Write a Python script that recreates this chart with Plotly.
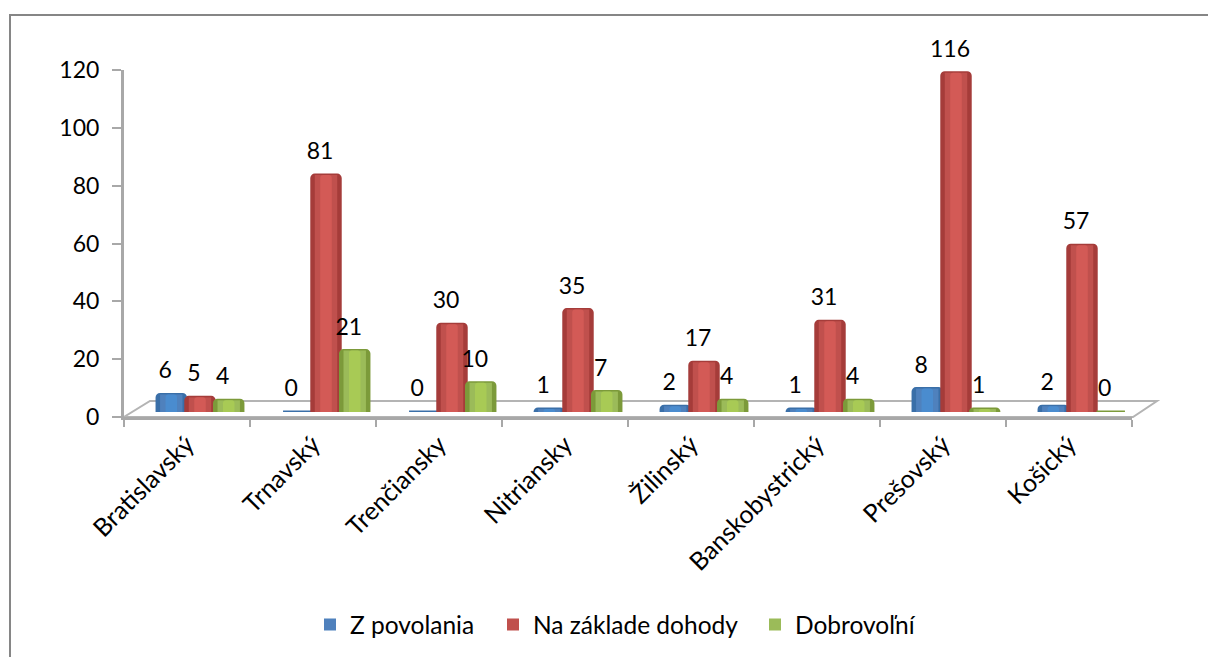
import plotly.graph_objects as go

categories = ["Bratislavský", "Trnavský", "Trenčiansky", "Nitriansky", "Žilinský",
              "Banskobystrický", "Prešovský", "Košický"]
z_povolania = [6, 0, 0, 1, 2, 1, 8, 2]
na_zaklade_dohody = [5, 81, 30, 35, 17, 31, 116, 57]
dobrovolni = [4, 21, 10, 7, 4, 4, 1, 0]
y_ticks = [0, 20, 40, 60, 80, 100, 120]

series = [
    ("Z povolania", z_povolania, ["#3a6fa8", "#4F81BD", "#4a8ccf"]),
    ("Na základe dohody", na_zaklade_dohody, ["#a53c3a", "#C0504D", "#d35a56"]),
    ("Dobrovoľní", dobrovolni, ["#7c9a3a", "#9BBB59", "#a8ca55"]),
]

W, H = 1208, 657
def px(a, b):
    return [a / W, b / W]
def py(top, bottom):
    return [1 - bottom / H, 1 - top / H]
FONT = "Lato, Carlito, Calibri, sans-serif"
xr = [-0.5, 7.5]
bar_w = 0.228
legend_ids = ["legend", "legend2", "legend3"]
legend_left = [310, 493, 755]

fig = go.Figure()
for i, (name, vals, cols) in enumerate(series):
    left = -0.342 + i * bar_w
    for scale, col, leg in [(0.99, cols[0], False), (0.78, cols[1], True), (0.4, cols[2], False)]:
        w = bar_w * scale
        fig.add_trace(go.Bar(
            x=categories, y=vals, name=name, width=w,
            offset=left + (bar_w - w) / 2,
            marker=dict(color=col, cornerradius=0 if leg else 3,
                        line=dict(width=3 if scale > 0.9 else 0, color=col)),
            xaxis="x2", yaxis="y2", showlegend=leg, legend=legend_ids[i], hoverinfo="skip",
        ))
for i, (name, vals, cols) in enumerate(series):
    left = -0.342 + i * bar_w
    fig.add_trace(go.Bar(
        x=categories, y=vals, name=name, width=bar_w, offset=left,
        marker=dict(color="rgba(0,0,0,0)", line=dict(width=0)), text=[str(v) for v in vals],
        textposition="outside", cliponaxis=False, constraintext="none",
        textfont=dict(family=FONT, size=23, color="#000000"),
        xaxis="x3", yaxis="y3", showlegend=False, hoverinfo="skip",
    ))
# keeps the primary category axis populated
fig.add_trace(go.Scatter(x=categories, y=[0] * 8, mode="none", showlegend=False, hoverinfo="skip"))

axis_grey = "#a8a8a8"
def legend_at(x_px):
    return dict(orientation="h", x=x_px / W, xanchor="left", y=0.015, yanchor="bottom",
                font=dict(family=FONT, size=24.5, color="#000000"), bgcolor="rgba(0,0,0,0)")

fig.update_layout(
    width=W, height=H, margin=dict(l=0, r=0, t=0, b=0, autoexpand=False),
    paper_bgcolor="white", plot_bgcolor="rgba(0,0,0,0)",
    barmode="overlay", font=dict(family=FONT, size=23, color="#000000"),
    xaxis=dict(domain=px(124, 1132), range=xr, type="category", categoryorder="array",
               categoryarray=categories, tickson="boundaries", ticks="outside", ticklen=7,
               tickwidth=2, tickcolor=axis_grey, showline=True, linecolor=axis_grey, linewidth=3,
               showgrid=False, zeroline=False, tickangle=-45, anchor="y",
               tickfont=dict(family=FONT, size=25, color="#000000")),
    yaxis=dict(domain=py(70, 417), range=[0, 120], tickvals=y_ticks, ticks="outside", ticklen=9,
               tickwidth=2, tickcolor=axis_grey, showline=True, linecolor=axis_grey, linewidth=3,
               showgrid=False, zeroline=False, ticklabelstandoff=8, anchor="x",
               tickfont=dict(family=FONT, size=23, color="#000000")),
    xaxis2=dict(domain=px(137, 1145), range=xr, type="category", categoryorder="array",
                categoryarray=categories, visible=False, anchor="y2"),
    yaxis2=dict(domain=py(61, 412), range=[0, 120], visible=False, anchor="x2"),
    xaxis3=dict(domain=px(131, 1139), range=xr, type="category", categoryorder="array",
                categoryarray=categories, visible=False, anchor="y3"),
    yaxis3=dict(domain=py(53, 404), range=[0, 120], visible=False, anchor="x3"),
    legend=legend_at(legend_left[0]),
    legend2=legend_at(legend_left[1]),
    legend3=legend_at(legend_left[2]),
    shapes=[
        dict(type="path", xref="paper", yref="paper", layer="below",
             path=f"M {124/W} {1-417/H} L {1133/W} {1-417/H} L {1157/W} {1-401/H} L {150/W} {1-401/H} Z",
             line=dict(color="#b4b4b4", width=2), fillcolor="white"),
        dict(type="rect", xref="paper", yref="paper", layer="below",
             x0=10/W, x1=1.01, y0=-0.01, y1=1-15/H,
             line=dict(color="#868686", width=2), fillcolor="rgba(0,0,0,0)"),
    ],
)
fig.write_html("out.html", config={"displayModeBar": False},
               post_script="document.body.style.margin='0';")
